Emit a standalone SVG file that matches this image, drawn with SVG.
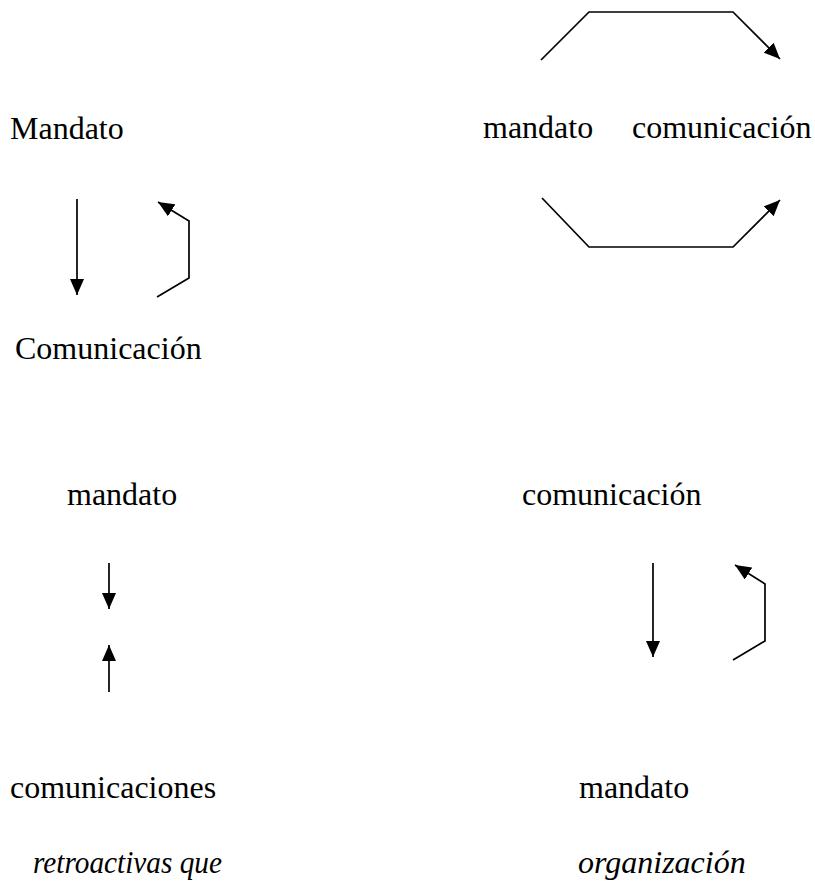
<svg xmlns="http://www.w3.org/2000/svg" width="815" height="881" viewBox="0 0 815 881">
<style>
text{font-family:"Liberation Serif","Times New Roman",serif;font-size:32px;fill:#000}
.it{font-style:italic}
.c{fill:none;stroke:#000;stroke-width:1.7;marker-end:url(#ah)}
</style>
<defs>
<marker id="ah" markerUnits="userSpaceOnUse" markerWidth="17" markerHeight="14" refX="16" refY="7" orient="auto">
<path d="M0,0 L16,7 L0,14 z" fill="#000"/>
</marker>
</defs>
<rect width="815" height="881" fill="#fff"/>
<g id="n-mandato1"><text x="10" y="139">Mandato</text></g>
<g id="n-comunicacion1"><text x="15" y="359">Comunicación</text></g>
<g id="n-mandato2"><text x="483" y="138">mandato</text></g>
<g id="n-comunicacion2"><text x="632" y="138">comunicación</text></g>
<g id="n-mandato3"><text x="67" y="505">mandato</text></g>
<g id="n-comunicacion3"><text x="522" y="505">comunicación</text></g>
<g id="n-comunicaciones"><text x="10" y="798">comunicaciones</text></g>
<g id="n-mandato4"><text x="579" y="798">mandato</text></g>
<g id="n-retro"><text class="it" x="33" y="873" textLength="189" lengthAdjust="spacingAndGlyphs">retroactivas que</text></g>
<g id="n-org"><text class="it" x="578" y="873">organización</text></g>
<g id="connectors">
<polyline class="c" points="541,60 589,12 733,12 780,59"/>
<polyline class="c" points="542,198 589,247 733,247 780,200"/>
<polyline class="c" points="77,199 77,295"/>
<polyline class="c" points="157,297 189,278 189,221 158,202"/>
<polyline class="c" points="109,563 109,609"/>
<polyline class="c" points="109,692 109,645"/>
<polyline class="c" points="653,563 653,657"/>
<polyline class="c" points="733,660 765,641 765,584 735,565"/>
</g>
</svg>
